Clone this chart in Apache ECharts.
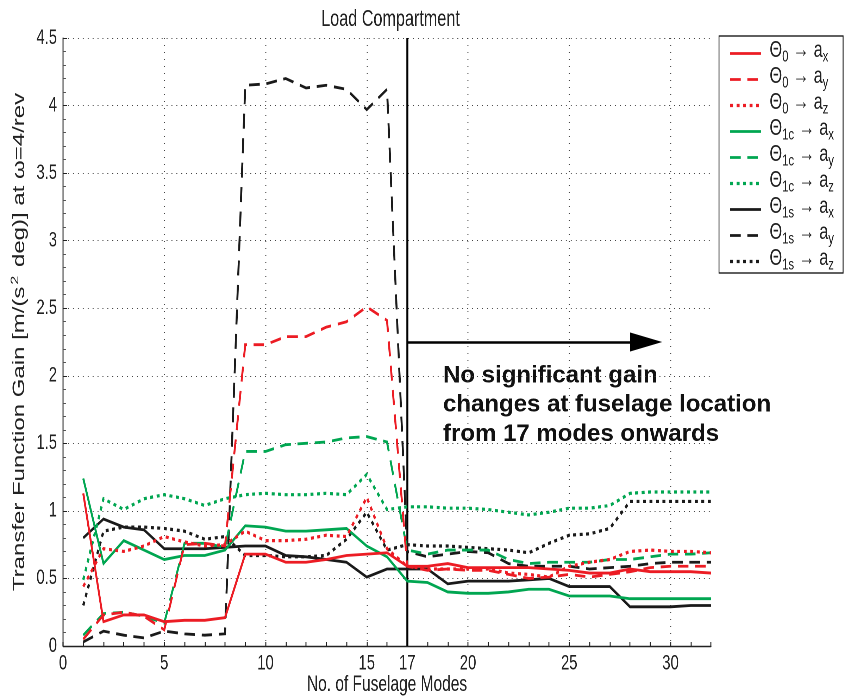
<!DOCTYPE html>
<html>
<head>
<meta charset="utf-8">
<script src="https://cdn.jsdelivr.net/npm/echarts@6/dist/echarts.min.js"></script>
<style>
  html, body { margin: 0; padding: 0; background: #fff; overflow: hidden; }
  #frame { width: 845px; height: 696px; overflow: hidden; position: relative; }
  /* laid out wider, then squeezed horizontally for condensed lettering */
  #chart { width: 1200px; height: 696px; transform: scaleX(0.7041667); transform-origin: 0 0; }
</style>
</head>
<body>
<div id="frame"><div id="chart"></div></div>
<script>
// Number of fuselage modes retained (x axis)
const modes = [1,2,3,4,5,6,7,8,9,10,11,12,13,14,15,16,17,18,19,20,21,22,23,24,25,26,27,28,29,30,31,32];

// Transfer function gain at omega = 4/rev, per control input -> acceleration
const theta0_ax  = [1.13,0.18,0.23,0.23,0.18,0.19,0.19,0.21,0.68,0.68,0.62,0.62,0.64,0.67,0.68,0.69,0.59,0.59,0.61,0.58,0.58,0.58,0.58,0.57,0.56,0.54,0.54,0.57,0.55,0.55,0.55,0.54];
const theta0_ay  = [0.05,0.23,0.25,0.22,0.12,0.75,0.76,0.74,2.23,2.23,2.29,2.29,2.36,2.40,2.51,2.41,0.59,0.56,0.57,0.56,0.56,0.53,0.50,0.51,0.53,0.51,0.53,0.55,0.58,0.59,0.59,0.59];
const theta0_az  = [0.44,0.72,0.70,0.74,0.81,0.77,0.74,0.75,0.85,0.78,0.78,0.79,0.82,0.81,1.10,0.72,0.59,0.57,0.57,0.57,0.57,0.54,0.53,0.51,0.59,0.62,0.64,0.70,0.71,0.70,0.70,0.69];
const theta1c_ax = [1.24,0.61,0.78,0.71,0.64,0.67,0.67,0.71,0.89,0.88,0.85,0.85,0.86,0.87,0.74,0.66,0.48,0.47,0.40,0.39,0.39,0.40,0.42,0.42,0.37,0.37,0.37,0.35,0.35,0.35,0.35,0.35];
const theta1c_ay = [0.08,0.24,0.25,0.22,0.17,0.76,0.76,0.73,1.44,1.44,1.49,1.50,1.51,1.54,1.55,1.51,0.71,0.68,0.71,0.71,0.71,0.64,0.61,0.62,0.62,0.62,0.64,0.64,0.66,0.68,0.68,0.69];
const theta1c_az = [0.49,1.09,1.01,1.09,1.12,1.09,1.04,1.09,1.12,1.13,1.12,1.12,1.13,1.12,1.27,1.01,1.03,1.03,1.02,1.02,1.01,0.99,0.97,0.99,1.02,1.02,1.04,1.13,1.14,1.14,1.14,1.14];
const theta1s_ax = [0.80,0.94,0.88,0.86,0.72,0.72,0.72,0.73,0.74,0.74,0.67,0.66,0.64,0.62,0.51,0.57,0.57,0.57,0.46,0.48,0.48,0.48,0.49,0.50,0.44,0.44,0.44,0.29,0.29,0.29,0.30,0.30];
const theta1s_ay = [0.03,0.11,0.08,0.06,0.11,0.09,0.08,0.09,4.15,4.16,4.20,4.13,4.15,4.12,3.97,4.12,0.70,0.66,0.68,0.70,0.69,0.61,0.59,0.59,0.59,0.57,0.58,0.59,0.61,0.62,0.62,0.62];
const theta1s_az = [0.30,0.85,0.88,0.88,0.87,0.85,0.79,0.81,0.67,0.67,0.66,0.66,0.67,0.79,0.99,0.71,0.75,0.74,0.74,0.73,0.72,0.71,0.69,0.76,0.82,0.83,0.87,1.07,1.07,1.07,1.07,1.07];

// Axis tick labels
const xTickLabels = [0, 5, 10, 15, 17, 20, 25, 30];
const yTickValues = [0, 0.5, 1, 1.5, 2, 2.5, 3, 3.5, 4, 4.5];

// Mode count beyond which gains settle, and the arrow drawn from it
const settleMode = 17;
const arrowEnd = 28.8;
const arrowLevel = 2.25;

// Horizontal squeeze applied to the canvas (see stylesheet)
const SX = 845 / 1200;
const hx = v => v / SX;   // on-screen horizontal distance -> canvas distance

const RED = '#ec1c24';
const GREEN = '#00a651';
const BLACK = '#1a1a1a';
const FONT = 'Liberation Sans, Arial, Helvetica, sans-serif';

const LINE_W = 2.8;
const DASH = [15, 9.5];
const DOT = [4.2, 5.0];

// [input subscript, output subscript, values, colour, line style]
const curves = [
  ['0',  'x', theta0_ax,  RED,   'solid'],
  ['0',  'y', theta0_ay,  RED,   DASH],
  ['0',  'z', theta0_az,  RED,   DOT],
  ['1c', 'x', theta1c_ax, GREEN, 'solid'],
  ['1c', 'y', theta1c_ay, GREEN, DASH],
  ['1c', 'z', theta1c_az, GREEN, DOT],
  ['1s', 'x', theta1s_ax, BLACK, 'solid'],
  ['1s', 'y', theta1s_ay, BLACK, DASH],
  ['1s', 'z', theta1s_az, BLACK, DOT]
];

const seriesNames = curves.map(c => 'Θ' + c[0] + ' → a' + c[1]);
const legendLabel = {};
curves.forEach((c, i) => {
  legendLabel[seriesNames[i]] = '{h|Θ}{s|' + c[0] + '}{g| → a}{s|' + c[1] + '}';
});

const series = curves.map((c, i) => ({
  name: seriesNames[i],
  type: 'line',
  data: modes.map((m, k) => [m, c[2][k]]),
  symbol: 'none',
  showSymbol: false,
  animation: false,
  z: 10 - Math.floor(i / 3),
  color: c[3],
  lineStyle: { color: c[3], width: c[4] === DOT ? 3.2 : LINE_W, type: c[4], cap: 'butt', join: 'miter' },
  emphasis: { disabled: true }
}));

// Vertical divider at 17 modes plus the horizontal arrow
series.push({
  name: 'guides',
  type: 'line',
  data: [],
  silent: true,
  animation: false,
  markLine: {
    silent: true,
    animation: false,
    symbol: ['none', 'none'],
    label: { show: false },
    emphasis: { disabled: true },
    data: [
      { xAxis: settleMode, lineStyle: { color: '#000', width: 2.8, type: 'solid' } },
      [
        { coord: [settleMode, arrowLevel], symbol: 'none', lineStyle: { color: '#000', width: 2.6, type: 'solid' } },
        { coord: [arrowEnd, arrowLevel], symbol: 'triangle', symbolSize: [19, hx(32)] }
      ]
    ]
  }
});

const chart = echarts.init(document.getElementById('chart'), null, { renderer: 'canvas', devicePixelRatio: 2 });

const legendText = { fontFamily: FONT, color: '#222', verticalAlign: 'bottom' };

chart.setOption({
  animation: false,
  backgroundColor: '#fff',
  textStyle: { fontFamily: FONT },
  title: {
    text: 'Load Compartment',
    left: hx(387),
    top: 3,
    textAlign: 'center',
    textStyle: { fontFamily: FONT, fontSize: 23, fontWeight: 'normal', color: '#222' }
  },
  grid: { left: hx(63), right: hx(134), top: 38, bottom: 50, containLabel: false, outerBoundsMode: 'none' },
  legend: {
    orient: 'vertical',
    left: hx(719),
    top: 36,
    data: curves.map((c, i) => ({
      name: seriesNames[i],
      lineStyle: { color: c[3], width: c[4] === DOT ? 3.2 : LINE_W, type: c[4], cap: 'butt' }
    })),
    itemWidth: hx(31),
    itemHeight: 14,
    itemGap: 0,
    padding: [3, 13, 0, hx(729) - hx(719)],
    borderColor: '#000',
    borderWidth: 1.2,
    borderRadius: 0,
    backgroundColor: '#fff',
    selectedMode: false,
    itemStyle: { opacity: 0 },
    formatter: name => legendLabel[name],
    textStyle: {
      fontFamily: FONT,
      color: '#222',
      rich: {
        h: Object.assign({ fontSize: 23, lineHeight: 23, padding: [0, 0, 3, 7] }, legendText),
        g: Object.assign({ fontSize: 23, lineHeight: 23, padding: [0, 0, 3, 0] }, legendText),
        s: Object.assign({ fontSize: 16, lineHeight: 16 }, legendText)
      }
    }
  },
  xAxis: [
    {
      type: 'value',
      min: 0,
      max: 32,
      interval: 1,
      name: 'No. of Fuselage Modes',
      nameLocation: 'middle',
      nameGap: 28,
      nameMoveOverlap: false,
      nameTextStyle: { fontFamily: FONT, fontSize: 22, color: '#222' },
      axisLine: { show: true, onZero: false, lineStyle: { color: '#222', width: 1.4 } },
      axisTick: { show: true, inside: true, length: 4, lineStyle: { color: '#222', width: 1.4 } },
      axisLabel: {
        fontFamily: FONT, fontSize: 21, color: '#222', margin: 7,
        formatter: v => (xTickLabels.indexOf(v) >= 0 ? String(v) : '')
      },
      splitLine: { show: false }
    },
    {
      type: 'value',
      min: 0,
      max: 32,
      interval: 5,
      position: 'bottom',
      axisLine: { show: false },
      axisTick: { show: false },
      axisLabel: { show: false },
      splitLine: { show: true, showMaxLine: false, showMinLine: false, lineStyle: { color: '#444', width: 1.4, type: [1, 6] } }
    }
  ],
  yAxis: {
    type: 'value',
    min: 0,
    max: 4.5,
    interval: 0.5,
    name: '{t|Transfer Function Gain [m/(s}{p|2}{t| deg)] at ω=4/rev}',
    nameLocation: 'middle',
    nameGap: hx(35),
    nameMoveOverlap: false,
    nameTextStyle: {
      fontFamily: FONT,
      color: '#222',
      rich: {
        t: { fontSize: 24, fontFamily: FONT, color: '#222', verticalAlign: 'bottom' },
        p: { fontSize: 16, fontFamily: FONT, color: '#222', verticalAlign: 'bottom', padding: [0, 2, 10, 2] }
      }
    },
    axisLine: { show: true, lineStyle: { color: '#222', width: 1.4 } },
    axisTick: { show: true, inside: true, length: 6, lineStyle: { color: '#222', width: 1 } },
    minorTick: { show: true, splitNumber: 5, length: 4, lineStyle: { color: '#555', width: 1 } },
    axisLabel: {
      fontFamily: FONT, fontSize: 21, color: '#222', margin: hx(6),
      formatter: v => (yTickValues.indexOf(v) >= 0 ? String(v) : '')
    },
    splitLine: { show: true, lineStyle: { color: '#444', width: 1, type: [1.4, 5.6] } }
  },
  graphic: [
    {
      type: 'text',
      left: hx(443),
      top: 361,
      silent: true,
      scaleX: 1 / SX,
      style: {
        text: 'No significant gain\nchanges at fuselage location\nfrom 17 modes onwards',
        font: 'bold 24px ' + FONT,
        lineHeight: 29.4,
        fill: '#111'
      }
    }
  ],
  series: series
});
</script>
</body>
</html>
